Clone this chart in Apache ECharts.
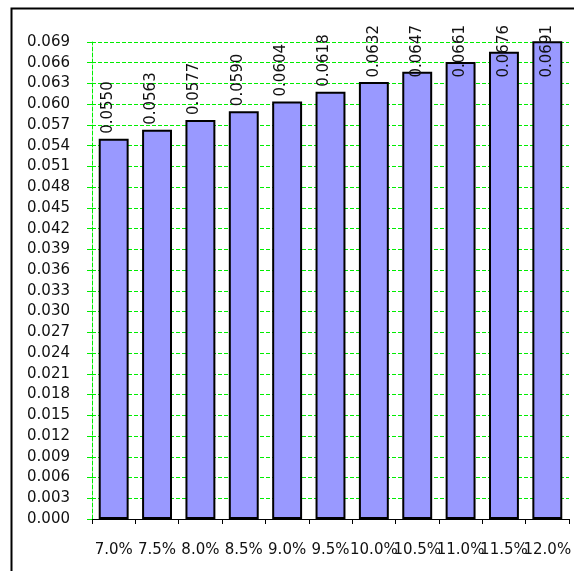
<!DOCTYPE html>
<html>
<head>
<meta charset="utf-8">
<title>Bar chart</title>
<script src="https://cdn.jsdelivr.net/npm/echarts@6/dist/echarts.min.js"></script>
<style>
  html, body { margin: 0; padding: 0; background: #ffffff; }
  #chart { width: 574px; height: 571px; }
</style>
</head>
<body>
<div id="chart"></div>
<script>
// Rates along the category axis
var categories = ['7.0%', '7.5%', '8.0%', '8.5%', '9.0%', '9.5%', '10.0%', '10.5%', '11.0%', '11.5%', '12.0%'];
// Bar values
var values = [0.0550, 0.0563, 0.0577, 0.0590, 0.0604, 0.0618, 0.0632, 0.0647, 0.0661, 0.0676, 0.0691];
// Value axis range and step
var yMin = 0.000;
var yMax = 0.069;
var yStep = 0.003;

var FONT = 'DejaVu Sans';
var FONT_SIZE = 15;
var GREEN = '#00ee00';
var LABEL_GAP = 5;     // space between a bar top and its value label
var LABEL_CEIL = 25;   // value labels never rise above this line

var chart = echarts.init(document.getElementById('chart'), null, { renderer: 'canvas' });

function fmtValue(v) { return v.toFixed(4); }

chart.setOption({
  animation: false,
  backgroundColor: '#ffffff',
  graphic: [{
    type: 'rect',
    left: 9,
    top: 6,
    shape: { width: 700, height: 700 },
    style: { fill: 'none', stroke: '#000000', lineWidth: 2 },
    silent: true
  }],
  grid: { left: 92, right: 2, top: 42, height: 477, containLabel: false },
  xAxis: {
    type: 'category',
    data: categories,
    boundaryGap: true,
    axisLine: { show: true, lineStyle: { color: '#000000', width: 1 } },
    axisTick: { show: true, length: 5, inside: false, alignWithLabel: false, lineStyle: { color: '#000000' } },
    axisLabel: { margin: 24, fontFamily: FONT, fontSize: FONT_SIZE, color: '#111111', interval: 0 },
    splitLine: { show: false }
  },
  yAxis: {
    type: 'value',
    min: yMin,
    max: yMax,
    interval: yStep,
    axisLine: { show: true, lineStyle: { color: GREEN, type: [4, 2], width: 1 } },
    axisTick: { show: true, length: 5, lineStyle: { color: GREEN } },
    axisLabel: {
      margin: 22,
      fontFamily: FONT,
      fontSize: FONT_SIZE,
      color: '#111111',
      formatter: function (v) { return v.toFixed(3); }
    },
    splitLine: { show: true, lineStyle: { color: GREEN, type: [4, 2], width: 1 } }
  },
  series: [{
    type: 'bar',
    data: values,
    clip: false,
    barCategoryGap: '31%',
    itemStyle: { color: '#9999ff', borderColor: '#000000', borderWidth: 2 },
    label: {
      show: true,
      position: 'top',
      distance: LABEL_GAP,
      rotate: 90,
      align: 'left',
      verticalAlign: 'middle',
      fontFamily: FONT,
      fontSize: FONT_SIZE,
      color: '#111111',
      formatter: function (p) { return fmtValue(p.value); }
    }
  }]
});

// Label offsets are applied in the label's rotated frame; for a 90° label a
// screen shift (dx, dy) corresponds to offset [-dy, dx].
function screenShift(dx, dy) { return [-dy, dx]; }

// Tall bars: slide their rotated labels down so they stay below the frame top.
var measure = document.createElement('canvas').getContext('2d');
measure.font = FONT_SIZE + 'px "' + FONT + '"';
var items = values.map(function (v, i) {
  var barTop = chart.convertToPixel({ seriesIndex: 0 }, [i, v])[1];
  var textLen = measure.measureText(fmtValue(v)).width;
  var labelTop = barTop - LABEL_GAP - textLen;
  if (labelTop < LABEL_CEIL) {
    return { value: v, label: { offset: screenShift(0, LABEL_CEIL - labelTop) } };
  }
  return { value: v, label: { offset: screenShift(-6, 0) } };
});
chart.setOption({ series: [{ data: items }] });
</script>
</body>
</html>
